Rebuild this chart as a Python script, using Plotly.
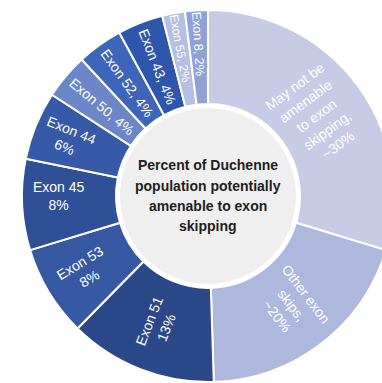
import plotly.graph_objects as go

# Share of the Duchenne population by exon-skipping category (clockwise from 12 o'clock)
labels = [
    "May not be amenable to exon skipping",
    "Other exon skips",
    "Exon 51",
    "Exon 53",
    "Exon 45",
    "Exon 44",
    "Exon 50",
    "Exon 52",
    "Exon 43",
    "Exon 55",
    "Exon 8",
]
values = [30, 20, 13, 8, 8, 6, 4, 4, 4, 2, 2]
slice_text = [
    "May not be<br>amenable<br>to exon<br>skipping,<br>~30%",
    "Other exon<br>skips,<br>~20%",
    "Exon 51<br>13%",
    "Exon 53<br>8%",
    "Exon 45<br>8%",
    "Exon 44<br>6%",
    "Exon 50, 4%",
    "Exon 52, 4%",
    "Exon 43, 4%",
    "Exon 55, 2%",
    "Exon 8, 2%",
]
colors = [
    "#c7cbe5", "#adb8dc", "#2b4888", "#3759a4", "#2f4f96", "#3659a8",
    "#6b87c8", "#3d65ba", "#2e56aa", "#b5bfe2", "#8ea2d6",
]
center_lines = ["Percent of Duchenne", "population potentially", "amenable to exon", "skipping"]

W, H = 420, 383
cx, cy, R = 208, 196, 186  # donut centre (px from left/top) and outer radius
hole_r = 92

fig = go.Figure(
    go.Pie(
        labels=labels,
        values=values,
        text=slice_text,
        textinfo="text",
        textposition="inside",
        insidetextorientation="radial",
        insidetextfont=dict(family="Liberation Sans, Arial, sans-serif", size=14, color="white"),
        marker=dict(colors=colors, line=dict(color="white", width=2)),
        sort=False,
        direction="clockwise",
        rotation=0,
        hole=hole_r / R,
        domain=dict(x=[(cx - R) / W, (cx + R) / W], y=[(H - cy - R) / H, (H - cy + R) / H]),
        showlegend=False,
        hoverinfo="label+value",
    )
)

xa = cx / W
ya = (H - cy) / H
fig.add_shape(
    type="circle",
    xref="paper", yref="paper",
    xsizemode="pixel", ysizemode="pixel",
    xanchor=xa, yanchor=ya,
    x0=-(hole_r - 2), x1=hole_r - 2, y0=-(hole_r - 2), y1=hole_r - 2,
    fillcolor="#efefef",
    line=dict(color="white", width=4),
    layer="above",
)
# centre caption, one annotation per line for a looser line spacing
for line, shift in zip(center_lines, [31, 10, -10, -30]):
    fig.add_annotation(
        x=xa, y=ya, xref="paper", yref="paper",
        text=line,
        yshift=shift,
        showarrow=False,
        font=dict(family="Liberation Sans, Arial, sans-serif", size=14, color="#1e1e1e", weight="bold"),
        align="center",
    )

fig.update_layout(
    width=W, height=H,
    margin=dict(l=0, r=0, t=0, b=0),
    paper_bgcolor="white",
    plot_bgcolor="white",
)

fig.write_html(
    "out.html",
    post_script="document.body.style.margin='0';document.body.style.overflow='hidden';",
)
